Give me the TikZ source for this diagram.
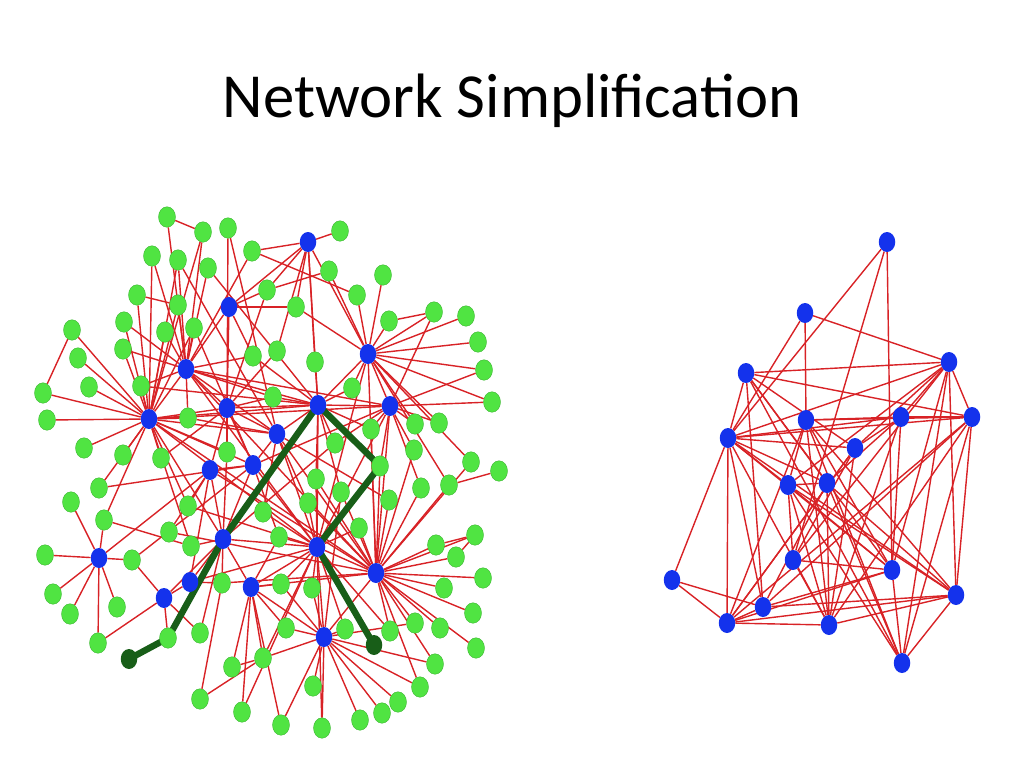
\documentclass[tikz,border=0pt]{standalone}
\usepackage{fontspec}
\setmainfont{Carlito}
\usetikzlibrary{shapes.geometric}
\pgfdeclarelayer{edges}
\pgfdeclarelayer{route}
\pgfsetlayers{edges,route,main}
\definecolor{nodegreen}{RGB}{80,228,66}
\definecolor{nodeblue}{RGB}{20,50,236}
\definecolor{edgered}{RGB}{216,34,38}
\definecolor{routegreen}{RGB}{24,94,24}

\begin{document}
\begin{tikzpicture}[x=1pt,y=-1pt,
	gn/.style={ellipse,fill=nodegreen,draw=nodegreen!80!black,line width=0.4pt,inner sep=0pt,minimum width=17pt,minimum height=20.5pt},
	bn/.style={ellipse,fill=nodeblue,inner sep=0pt,minimum width=16.5pt,minimum height=20pt},
	dn/.style={bn,fill=routegreen},
	ln/.style={draw=edgered,line width=1.4pt},
	route/.style={draw=routegreen,line width=6.5pt,line cap=round,line join=round}]
	\useasboundingbox (0,0) rectangle (1024,768);
	\node[anchor=base,font=\fontsize{62.7}{72}\selectfont] (title) at (512,117) {Network Simplification};

	% left network: blue hubs, green leaves
	\foreach \n/\x/\y in {1/308/242,2/229/307,3/186/369,4/368/354,5/149/419,6/227/408,7/318/405,8/390/406,9/277/434,10/210/470,
		11/253/465,12/223/539,13/317/547,14/99/558,15/190/582,16/251/587,17/164/598,18/376/573,19/324/637}
		\node[bn] (b\n) at (\x,\y) {};
	\foreach \n/\x/\y in {1/167/217,2/203/232,3/228/228,4/252/251,5/152/256,6/178/260,7/208/268,8/267/290,9/137/295,10/178/305,
		11/124/322,12/165/332,13/194/328,14/72/330,15/123/349,16/78/358,17/253/356,18/277/351,19/89/387,20/141/386,
		21/43/393,22/273/397,23/47/420,24/188/418,25/84/448,26/123/455,27/161/458,28/227/452,29/340/231,30/329/271,
		31/383/275,32/357/295,33/296/307,34/389/321,35/434/312,36/466/316,37/478/342,38/315/362,39/484/370,40/352/388,
		41/492/402,42/415/424,43/439/423,44/335/443,45/371/429,46/414/450,47/471/462,48/499/471,49/380/466,50/99/488,
		51/71/502,52/104/520,53/188/506,54/169/532,55/263/512,56/191/546,57/45/555,58/132/560,59/222/583,60/53/594,
		61/117/607,62/70/614,63/168/638,64/200/633,65/98/643,66/232/667,67/263/658,68/200/699,69/242/712,70/316/479,
		71/341/492,72/421/488,73/449/485,74/389/500,75/308/503,76/359/528,77/279/537,78/436/545,79/475/535,80/456/557,
		81/483/578,82/444/588,83/281/584,84/312/588,85/473/613,86/415/623,87/440/628,88/390/631,89/286/628,90/345/629,
		91/476/648,92/435/664,93/313/686,94/420/687,95/398/702,96/382/713,97/360/720,98/281/725,99/322/728}
		\node[gn] (g\n) at (\x,\y) {};
	\node[dn] (d1) at (129,659) {};
	\node[dn] (d2) at (374,645) {};

	% right network
	\foreach \n/\x/\y in {t/887/242,a/805/313,c/949/362,b/746/373,e/901/417,d/972/417,f/806/420,g/728/438,h/855/448,j/827/483,
		i/788/485,k/793/560,l/892/570,m/672/580,o/956/595,n/763/607,p/727/623,q/829/625,r/902/663}
		\node[bn] (r\n) at (\x,\y) {};

	\begin{pgfonlayer}{edges}
	\foreach \a/\l in {g1/{g2,b3},g2/{b5,b3},g3/{b6,b9},g4/{b1,b3,g32},g5/{b5,b3},g6/{b3,b5,b9},g7/{b3,b7},g8/{b2,b6,b1},
		g9/{g10,b5},g10/{b3,b5},g11/{b5,b3},g12/{b5,b3},g13/{b3,b5,b11},g14/{g21,b5},g15/{b5,b3},g16/{b5},
		g17/{b3,b2,b7},g18/{b1,b6},g19/{b5},g20/{b5,b3,b7},g21/{b5},g22/{b7,b6,b3},g23/{b5},g24/{b3,b5,b9},
		g25/{b5},g26/{b5},g27/{b5,b6},g28/{b6,b5,b12},g29/{b1},g30/{g8,b4},g31/{b4},g32/{b4},g33/{b4,b1,b2},
		g34/{b4,g35},g35/{b4,b8},g36/{b4},g37/{b4},g38/{b1,b7},g39/{b4,b8},g40/{b4,b7},g41/{b4,b8},g42/{b8,b4},
		g43/{b8,b4},g44/{b7,b8,b12},g45/{b8,b7,b18},g46/{b8,b18},g47/{b4,b18},g48/{g73},g49/{b8,b18},g50/{b11,b5},
		g51/{b14},g52/{b14,g56,b5},g53/{b5,b10,b13},g54/{b10,b18},g55/{b9,b13},g56/{b12,b5},g57/{b14},
		g58/{b14,b17,b11},g59/{b15,b12,b18},g60/{b14},g61/{b14},g62/{b14},g63/{b17},g64/{b17,b12},g65/{b14,b17},
		g66/{b16,g67},g67/{b16,b13,b19},g68/{g59,g67},g69/{b16,b13},g70/{b7,b13,b18},g71/{b7,b18,b19},g72/{b18,b8},
		g73/{b18,b4},g74/{b18,b9},g75/{b13,b18,b9},g76/{b18,b13},g77/{b13,b11,b16},g78/{b18,g79},g79/{b18,g80},
		g80/{b18},g81/{b18},g82/{b18},g83/{b16,b13,b19},g84/{b13,b19},g85/{b18},g86/{b18,b19},g87/{b18},
		g88/{b18,b13},g89/{b19,b16},g90/{b13,b19},g91/{b18},g92/{b19,b18},g93/{b19},g94/{b19,b18},g95/{b19},
		g96/{b19},g97/{b19},g98/{b19,b16},g99/{b19,b13}}
		{\foreach \b in \l {\draw[ln] (\a) -- (\b);}}
	\foreach \a/\b in {b1/b2,b1/b7,b1/b4,b2/b3,b2/b6,b3/b5,b3/b6,b3/b7,b3/b9,b3/b13,b5/b6,b5/b7,b5/b9,b5/b11,b5/b8,
		b5/b13,b5/b18,b5/b12,b6/b7,b6/b11,b6/b9,b6/b10,b7/b8,b7/b4,b7/b13,b7/b9,b4/b8,b4/b18,b4/b13,b8/b18,b8/b13,
		b9/b11,b9/b18,b9/b13,b10/b11,b10/b12,b10/b15,b11/b13,b11/b12,b12/b13,b12/b16,b12/b15,b13/b18,b13/b16,
		b13/b19,b14/b10,b15/b17,b16/b19,b17/b12,b18/b19,b16/b18,b10/b18,b15/b13,b11/b8,b3/b8,b3/b18}
		\draw[ln] (\a) -- (\b);
	\foreach \a/\b in {t/g,t/k,t/l,a/c,a/g,a/f,b/c,b/d,b/h,b/g,b/j,b/l,b/r,c/g,c/e,c/h,c/i,c/k,c/d,c/r,c/l,
		e/d,e/f,e/g,e/l,e/h,e/q,d/f,d/g,d/n,d/p,d/q,d/o,f/i,f/l,f/r,f/q,g/m,g/p,g/n,g/i,g/j,g/q,g/h,g/l,g/o,
		h/k,h/p,i/j,i/k,i/l,i/o,i/r,i/q,j/q,j/o,j/r,j/n,j/e,m/n,m/p,p/n,p/q,p/o,p/l,p/f,p/h,n/l,n/o,n/b,
		k/l,k/q,q/o,q/h,r/l,r/d,r/o,o/c,o/f}
		\draw[ln] (r\a) -- (r\b);
	\end{pgfonlayer}

	\begin{pgfonlayer}{route}
	\draw[route] (d1.center) -- (g63.center) -- (b12.center) -- (b7.center) -- (g49.center) -- (b13.center) -- (d2.center);
	\end{pgfonlayer}
\end{tikzpicture}
\end{document}
